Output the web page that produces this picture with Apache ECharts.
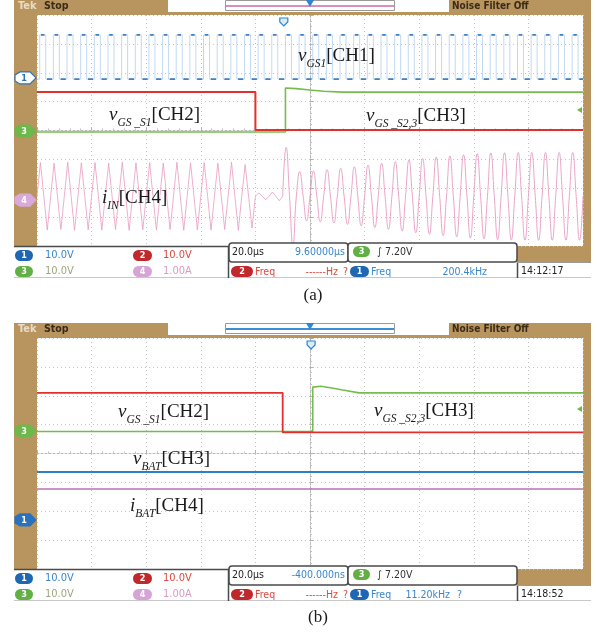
<!DOCTYPE html>
<html><head><meta charset="utf-8">
<script src="https://cdn.jsdelivr.net/npm/echarts@6/dist/echarts.min.js"></script>
<style>html,body{margin:0;padding:0;background:#fff}#c{width:597px;height:640px}</style>
</head><body><div id="c"></div>
<script>
// ===== DATA (time in µs, amplitude in screen divisions, 0 = screen centre) =====
// Panel (a)
const ch1RiseA = [-99,-94,-89,-84,-79,-74,-69,-64,-59,-54,-49,-44,-39,-34,-29,-24,-19,-14,-9,-4,1,6,11,16,21,26,31,36,41,46,51,56,61,66,71,76,81,86,91,96];
const ch1HighA = 3.31;
const ch1LowA = 1.78;
const ch1PulseWidthA = 2.2;
const ch2A = [[-100,1.33],[-20,1.33],[-20,0.02],[100,0.02]];
const ch3A = [[-100,-0.05],[-9,-0.05],[-9,1.47],[-5,1.45],[0,1.40],[5,1.36],[12,1.33],[100,1.33]];
const ch4CentreA = -2.28;
const ch4CycleA = [-100,-95,-90,-85,-80,-75,-70,-65,-60,-55,-50,-45,-40,-35,-30,-25,-20,-15,-10,-5,0,5,10,15,20,25,30,35,40,45,50,55,60,65,70,75,80,85,90,95];
const ch4AmpA = [1.17,1.15,1.18,1.16,1.17,1.15,1.18,1.16,1.17,1.15,1.18,1.16,1.17,1.15,1.18,1.10,
                 0.12,0.15,
                 1.70,0.85,0.88,0.92,0.97,1.02,1.08,1.14,1.20,1.26,1.31,1.36,1.40,1.44,1.47,1.50,1.51,1.52,1.52,1.52,1.52,1.52];
const ch4SmoothFromA = 18;   // index where the sinusoidal part starts
// Panel (b)
const ch1B = [[-100,-0.64],[100,-0.64]];
const ch2B = [[-100,2.10],[-10,2.10],[-10,0.73],[100,0.73]];
const ch3B = [[-100,0.76],[1,0.76],[1,2.30],[4,2.33],[8,2.27],[12,2.20],[18,2.10],[100,2.10]];
const ch4B = [[-100,-1.23],[100,-1.23]];
// channel ground markers (divisions) and trigger info
const markersA = [{ch:'1', y:1.82, fill:'#ffffff', stroke:'#2b72bd', text:'#2b72bd'},
                  {ch:'3', y:-0.02, fill:'#6db84b', stroke:'#6db84b', text:'#fff'},
                  {ch:'4', y:-2.41, fill:'#d9a9dc', stroke:'#d9a9dc', text:'#fff'}];
const markersB = [{ch:'3', y:0.78, fill:'#6db84b', stroke:'#6db84b', text:'#fff'},
                  {ch:'1', y:-2.30, fill:'#2b72bd', stroke:'#2b72bd', text:'#fff'}];
const trigLevelA = 0.71, trigLevelB = 1.54;
const trigTimeA = -9.6, trigTimeB = 0.4;
// status-bar texts
const statusA = {delay:'9.60000µs', freq:'200.4kHz', freqQ:'', clock:'14:12:17', hdrLine:'#d58fbf'};
const statusB = {delay:'-400.000ns', freq:'11.20kHz', freqQ:'?', clock:'14:18:52', hdrLine:'#3d8fd6'};

// ===== CHART =====
const TAN = '#b8945f';
const UI = "'Liberation Sans Narrow','DejaVu Sans Condensed','Liberation Sans',sans-serif";
const SERIF = "'Liberation Serif','Times New Roman',serif";
const BLUE = '#3a86cc', RED = '#e2302c', GREEN = '#74bd4c', PINK = '#e89ac2';

function squareWave(rises, hi, lo, w) {
  const d = [[-100, lo]];
  rises.forEach(r => { d.push([r, lo], [r, hi], [r + w, hi], [r + w, lo]); });
  d.push([100, lo]);
  return d;
}
function squareDashes(rises, hi, lo, w) {
  const g = 0.45, d = [];
  let prev = -100;
  rises.forEach(r => {
    if (r - g > prev + g) d.push([prev + g, lo], [r - g, lo], [r, '-']);
    d.push([r + g, hi], [r + w - g, hi], [r + w, '-']);
    prev = r + w;
  });
  d.push([prev + g, lo], [100, lo]);
  return d;
}
function osc(starts, amps, c, from, to) {
  const d = [];
  for (let i = from; i < to; i++) {
    const t = starts[i], a = amps[i];
    d.push([t, c], [t + 1.25, c + a], [t + 2.5, c], [t + 3.75, c - a]);
  }
  d.push([starts[to - 1] + 5, c]);
  return d;
}

const chart = echarts.init(document.getElementById('c'));
function xAx(g) {
  return {type:'value', gridIndex:g, min:-100, max:100, interval:20,
    axisLabel:{show:false},
    axisLine:{show:true, onZero:true, lineStyle:{color:'#b8b8b8', width:1, type:[2,2]}},
    axisTick:{show:true, inside:true, length:3, lineStyle:{color:'#b0b0b0'}},
    minorTick:{show:true, splitNumber:5, length:2, lineStyle:{color:'#c0c0c0'}},
    splitLine:{show:true, lineStyle:{color:'#c4c4c4', type:[1,3]}}};
}
function yAx(g) {
  return {type:'value', gridIndex:g, min:-4, max:4, interval:1,
    axisLabel:{show:false},
    axisLine:{show:true, onZero:true, lineStyle:{color:'#b8b8b8', width:1, type:[2,2]}},
    axisTick:{show:true, inside:true, length:3, lineStyle:{color:'#b0b0b0'}},
    minorTick:{show:true, splitNumber:5, length:2, lineStyle:{color:'#c0c0c0'}},
    splitLine:{show:true, lineStyle:{color:'#c4c4c4', type:[1,3]}}};
}
function ln(g, data, color, width, extra) {
  return Object.assign({type:'line', xAxisIndex:g, yAxisIndex:g, data, showSymbol:false, symbol:'none',
    lineStyle:{color, width}, animation:false, silent:true, connectNulls:false}, extra || {});
}

chart.setOption({
  animation:false,
  backgroundColor:'#fff',
  grid:[{left:37, top:15, width:546, height:231},
        {left:37, top:338, width:546, height:231}],
  xAxis:[xAx(0), xAx(1)],
  yAxis:[yAx(0), yAx(1)],
  series:[
    ln(0, osc(ch4CycleA, ch4AmpA, ch4CentreA, 0, ch4SmoothFromA), PINK, 0.8),
    ln(0, osc(ch4CycleA, ch4AmpA, ch4CentreA, ch4SmoothFromA, ch4CycleA.length), PINK, 0.9, {smooth:0.5}),
    ln(0, squareWave(ch1RiseA, ch1HighA, ch1LowA, ch1PulseWidthA), '#b3cfee', 0.8),
    ln(0, squareDashes(ch1RiseA, ch1HighA, ch1LowA, ch1PulseWidthA), '#3f80c6', 1.8),
    ln(0, ch3A, GREEN, 1.6),
    ln(0, ch2A, RED, 2),
    ln(1, ch4B, '#b870b0', 1.6),
    ln(1, ch1B, '#2f7fc6', 2),
    ln(1, ch3B, GREEN, 1.6),
    ln(1, ch2B, RED, 1.8)
  ]
});

// ===== CHROME (frame, header, status bars, labels) =====
const G = [];
function rect(x,y,w,h,fill,z,extra){ G.push(Object.assign({type:'rect', shape:{x,y,width:w,height:h}, style:{fill}, z:z===undefined?-10:z, silent:true}, extra||{})); }
function line(x1,y1,x2,y2,stroke,lw,z){ G.push({type:'line', shape:{x1,y1,x2,y2}, style:{stroke, lineWidth:lw||1}, z:z===undefined?6:z, silent:true}); }
function txt(x,y,text,fill,opt){ opt=opt||{}; G.push({type:'text', x, y, z:opt.z||12, silent:true,
  style:{text, fill, font:(opt.weight||'normal')+' '+(opt.size||10.5)+'px '+(opt.family||UI), textAlign:opt.align||'left', textVerticalAlign:'middle'}}); }
function pill(x,y,w,h,fill,label,lc){ G.push({type:'rect', shape:{x,y,width:w,height:h,r:h/2}, style:{fill}, z:11, silent:true});
  txt(x+w/2, y+h/2+0.5, label, lc||'#fff', {align:'center', size:9, weight:'bold'}); }

function panel(y0, st, markers, trigLevel, trigTime, gi) {
  // tan frame
  rect(14, y0+12, 577, 250, TAN);
  rect(14, y0, 154, 13, TAN);
  rect(449, y0, 142, 13, TAN);
  txt(18, y0+6.5, 'Tek', '#e9dcc6', {weight:'bold', size:11});
  txt(44, y0+6.5, 'Stop', '#3a2a18', {weight:'bold', size:10.5});
  txt(452, y0+6.5, 'Noise Filter Off', '#3a2a18', {weight:'bold', size:10});
  // record-view box
  G.push({type:'rect', shape:{x:225.5,y:y0+0.5,width:169,height:10}, style:{fill:'#fff', stroke:'#9a9a9a', lineWidth:1}, z:-8, silent:true});
  line(226, y0+6, 394, y0+6, st.hdrLine, 2, -7);
  G.push({type:'polygon', shape:{points:[[306,y0],[314,y0],[310,y0+7]]}, style:{fill:'#2f86d0'}, z:5, silent:true});
  // plot background
  rect(37, y0+15, 546, 231, '#fff', -9);
  // status bar
  rect(14, y0+246, 503, 32, '#fff', -9);
  rect(517, y0+262, 74, 16, '#fff', -9);
  line(14, y0+246.5, 229, y0+246.5, '#4a4a4a', 1.5);
  line(14, y0+277.5, 591, y0+277.5, '#c8c8c8', 1);
  line(228.5, y0+246, 228.5, y0+278, '#4a4a4a', 1.5);
  line(517.5, y0+262, 517.5, y0+278, '#4a4a4a', 1.5);
  line(517, y0+262.5, 591, y0+262.5, '#9a9a9a', 1);
  G.push({type:'rect', shape:{x:229,y:y0+243,width:119,height:19,r:3}, style:{fill:'#fff', stroke:'#4a4a4a', lineWidth:1.5}, z:7, silent:true});
  G.push({type:'rect', shape:{x:348,y:y0+243,width:169,height:19,r:3}, style:{fill:'#fff', stroke:'#4a4a4a', lineWidth:1.5}, z:7, silent:true});
  // left block
  pill(15, y0+250, 18, 11, '#1f67b1', '1');
  txt(45, y0+255.5, '10.0V', BLUE, {size:11});
  pill(133, y0+250, 19, 11, '#c0282c', '2');
  txt(163, y0+255.5, '10.0V', '#dc4a40', {size:11});
  pill(15, y0+266, 18, 11, '#62af45', '3');
  txt(45, y0+271.5, '10.0V', '#9ea680', {size:11});
  pill(133, y0+266, 19, 11, '#d6a4d6', '4');
  txt(163, y0+271.5, '1.00A', '#d79cc6', {size:11});
  // middle row 1
  txt(232, y0+252, '20.0µs', '#222');
  txt(345, y0+252, st.delay, BLUE, {align:'right'});
  pill(353, y0+246, 17, 11, '#62af45', '3');
  txt(377, y0+252, '∫ 7.20V', '#333');
  // row 2
  pill(231, y0+266, 22, 11, '#c0282c', '2');
  txt(255, y0+272, 'Freq', '#dc4a40');
  txt(338, y0+272, '------Hz', '#dc4a40', {align:'right'});
  txt(343, y0+272, '?', '#dc4a40');
  pill(350, y0+266, 19, 11, '#1f67b1', '1');
  txt(371, y0+272, 'Freq', BLUE);
  txt(st.freqQ ? 450 : 487, y0+272, st.freq, BLUE, {align:'right'});
  if (st.freqQ) txt(457, y0+272, st.freqQ, BLUE);
  txt(521, y0+271.5, st.clock, '#222');
  // channel markers in the left strip (positioned through the axis scale)
  markers.forEach(m => {
    const p = chart.convertToPixel({gridIndex:gi}, [-100, m.y]);
    const yy = p[1];
    G.push({type:'polygon', shape:{points:[[20,yy-6],[30,yy-6],[36,yy],[30,yy+6],[20,yy+6],[15,yy+3],[15,yy-3]]},
      style:{fill:m.fill, stroke:m.stroke, lineWidth:1.2}, z:11, silent:true});
    txt(24, yy+0.5, m.ch, m.text, {align:'center', size:9, weight:'bold'});
  });
  // trigger level arrow on the right edge
  const tl = chart.convertToPixel({gridIndex:gi}, [100, trigLevel]);
  G.push({type:'polygon', shape:{points:[[tl[0]-6,tl[1]],[tl[0]-1,tl[1]-3],[tl[0]-1,tl[1]+3]]}, style:{fill:'#6db84b'}, z:11, silent:true});
  // trigger position marker at top of plot
  const tp = chart.convertToPixel({gridIndex:gi}, [trigTime, 4]);
  G.push({type:'polygon', shape:{points:[[tp[0]-4,tp[1]+3],[tp[0]+4,tp[1]+3],[tp[0]+4,tp[1]+7],[tp[0],tp[1]+11],[tp[0]-4,tp[1]+7]]},
    style:{fill:'#d8ecfb', stroke:'#2f86d0', lineWidth:1.2}, z:11, silent:true});
}
panel(0, statusA, markersA, trigLevelA, trigTimeA, 0);
panel(323, statusB, markersB, trigLevelB, trigTimeB, 1);

// waveform annotations (serif, italic symbols with subscripts)
function lab(x, y, sym, sub, tail) {
  G.push({type:'text', x, y, z:12, silent:true, style:{
    text:'{v|'+sym+'}{s|'+sub+'}{t|'+tail+'}', textVerticalAlign:'middle',
    rich:{
      v:{fontFamily:SERIF, fontStyle:'italic', fontSize:19, fill:'#1a1a1a', verticalAlign:'bottom', padding:[0,0,4,0]},
      s:{fontFamily:SERIF, fontStyle:'italic', fontSize:11.5, fill:'#1a1a1a', verticalAlign:'bottom'},
      t:{fontFamily:SERIF, fontSize:19, fill:'#1a1a1a', verticalAlign:'bottom', padding:[0,0,4,0]}
    }}});
}
lab(298, 58, 'v', 'GS1', '[CH1]');
lab(109, 117, 'v', 'GS _S1', '[CH2]');
lab(366, 118, 'v', 'GS _S2,3', '[CH3]');
lab(102, 200, 'i', 'IN', '[CH4]');
lab(118, 414, 'v', 'GS _S1', '[CH2]');
lab(374, 413, 'v', 'GS _S2,3', '[CH3]');
lab(133, 461, 'v', 'BAT', '[CH3]');
lab(130, 508, 'i', 'BAT', '[CH4]');
txt(313, 296, '(a)', '#1a1a1a', {align:'center', size:17, family:SERIF});
txt(318, 618, '(b)', '#1a1a1a', {align:'center', size:17, family:SERIF});

chart.setOption({graphic:{elements:G}});
</script>
</body></html>
